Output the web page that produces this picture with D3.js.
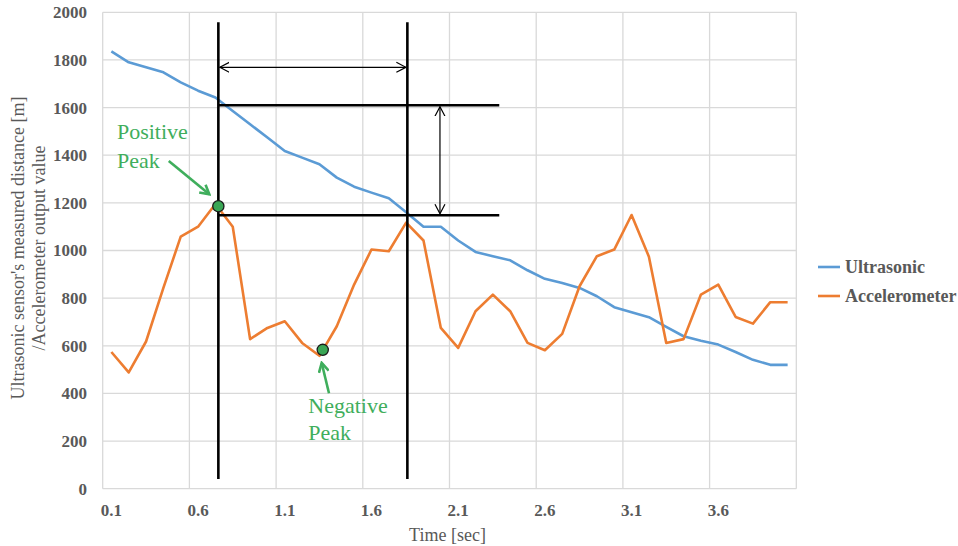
<!DOCTYPE html>
<html>
<head>
<meta charset="utf-8">
<script src="https://cdn.jsdelivr.net/npm/d3@7/dist/d3.min.js"></script>
<style>
	body { margin: 0; background: #fff; }
	text { font-family: "Liberation Serif", "Times New Roman", serif; }
</style>
</head>
<body>
<svg id="chart" width="958" height="546"></svg>
<script>
// time axis categories (sec)
const times = [
	0.1, 0.2, 0.3, 0.4, 0.5, 0.6, 0.7, 0.8, 0.9, 1.0,
	1.1, 1.2, 1.3, 1.4, 1.5, 1.6, 1.7, 1.8, 1.9, 2.0,
	2.1, 2.2, 2.3, 2.4, 2.5, 2.6, 2.7, 2.8, 2.9, 3.0,
	3.1, 3.2, 3.3, 3.4, 3.5, 3.6, 3.7, 3.8, 3.9, 4.0
];
const xTickLabels = ['0.1', '0.6', '1.1', '1.6', '2.1', '2.6', '3.1', '3.6'];
const yTicks = [0, 200, 400, 600, 800, 1000, 1200, 1400, 1600, 1800, 2000];

const ultrasonic = [
	1836, 1790, 1769, 1748, 1706, 1671, 1642, 1586, 1530, 1474,
	1418, 1390, 1362, 1306, 1268, 1243, 1219, 1161, 1100, 1100,
	1042, 994, 976, 959, 917, 881, 864, 843, 808, 762,
	741, 720, 679, 640, 621, 605, 574, 541, 520, 520
];
const accelerometer = [
	574, 488, 618, 843, 1058, 1100, 1195, 1100, 628, 675,
	703, 612, 558, 682, 857, 1004, 997, 1117, 1042, 675,
	591, 745, 815, 745, 612, 581, 650, 850, 976, 1004,
	1149, 974, 612, 628, 815, 857, 721, 693, 783, 783
];

const seriesNames = ['Ultrasonic', 'Accelerometer'];
const seriesColors = ['#5b9bd5', '#ed7d31'];

// annotations, in data units (time sec, value)
const markerLines = [0.717, 1.807];          // thick vertical lines
const markerLineRange = [41, 1958];
const levelLines = [1610, 1148];             // thick horizontal lines
const levelLineRange = [0.717, 2.337];
const timeArrow = {t1: 0.717, t2: 1.807, v: 1769};
const levelArrow = {t: 1.995, v1: 1610, v2: 1148};
const peaks = [
	{name: 'positive', t: 0.717, v: 1186, lines: ['Positive', 'Peak'], textT: 0.132, textV: [1470, 1348], arrow: [[0.431, 1376], [0.665, 1236]]},
	{name: 'negative', t: 1.319, v: 583, lines: ['Negative', 'Peak'], textT: 1.236, textV: [318, 205], arrow: [[1.355, 401], [1.313, 528]]}
];

const margin = {left: 102.7, right: 796.3, top: 12.3, bottom: 488.7};
const svg = d3.select('#chart');
const serif = '"Liberation Serif", "Times New Roman", serif';
const grey = '#595959';
const green = '#3fae5c';

const x = d3.scaleBand().domain(times).range([margin.left, margin.right]).padding(0);
const xt = d3.scaleLinear().domain([0.05, 4.05]).range([margin.left, margin.right]);
const y = d3.scaleLinear().domain([0, 2000]).range([margin.bottom, margin.top]);
const cx = t => x(t) + x.bandwidth() / 2;

// grid
svg.append('g').selectAll('line').data(yTicks).join('line')
	.attr('x1', margin.left).attr('x2', margin.right)
	.attr('y1', d => y(d)).attr('y2', d => y(d))
	.attr('stroke', '#d9d9d9').attr('stroke-width', 1.3);

const vGrid = d3.range(0, times.length + 1, 5).map(i => 0.05 + i * 0.1);
svg.append('g').selectAll('line').data(vGrid).join('line')
	.attr('x1', d => xt(d)).attr('x2', d => xt(d))
	.attr('y1', margin.top).attr('y2', margin.bottom)
	.attr('stroke', '#d9d9d9').attr('stroke-width', 1.3);

// tick labels
svg.append('g').selectAll('text').data(yTicks).join('text')
	.attr('x', 87).attr('y', d => y(d)).attr('dy', '0.35em')
	.attr('text-anchor', 'end').attr('font-weight', 'bold').attr('font-size', 17)
	.attr('font-family', serif).attr('fill', grey).text(d => d);

svg.append('g').selectAll('text').data(xTickLabels).join('text')
	.attr('x', d => cx(+d)).attr('y', 516)
	.attr('text-anchor', 'middle').attr('font-weight', 'bold').attr('font-size', 17)
	.attr('font-family', serif).attr('fill', grey).text(d => d);

// axis titles
svg.append('text')
	.attr('x', (margin.left + margin.right) / 2 - 2).attr('y', 541)
	.attr('text-anchor', 'middle').attr('font-size', 18).attr('font-family', serif)
	.attr('fill', grey).text('Time [sec]');

const yTitle = svg.append('text')
	.attr('transform', 'translate(24,248) rotate(-90)')
	.attr('text-anchor', 'middle').attr('font-size', 18).attr('font-family', serif)
	.attr('fill', grey);
yTitle.append('tspan').attr('x', 0).attr('dy', 0).text("Ultrasonic sensor's measured distance [m]");
yTitle.append('tspan').attr('x', 0).attr('dy', 21).text('/Accelerometer output value');

// series
const line = d3.line().x((d, i) => cx(times[i])).y(d => y(d));
[ultrasonic, accelerometer].forEach((values, i) => {
	svg.append('path').datum(values)
		.attr('fill', 'none').attr('stroke', seriesColors[i])
		.attr('stroke-width', 2.6).attr('stroke-linejoin', 'round')
		.attr('d', line);
});

// legend
const legend = svg.append('g').selectAll('g').data(seriesNames).join('g')
	.attr('transform', (d, i) => `translate(818,${267 + i * 29})`);
legend.append('line').attr('x1', 0).attr('x2', 22)
	.attr('stroke', (d, i) => seriesColors[i]).attr('stroke-width', 2.6);
legend.append('text').attr('x', 27).attr('dy', '0.35em')
	.attr('font-weight', 'bold').attr('font-size', 18).attr('font-family', serif)
	.attr('fill', grey).text(d => d);

// arrow markers
const defs = svg.append('defs');
defs.append('marker').attr('id', 'open-arrow')
	.attr('viewBox', '0 0 10 12').attr('refX', 9.5).attr('refY', 6)
	.attr('markerWidth', 10).attr('markerHeight', 12).attr('markerUnits', 'userSpaceOnUse')
	.attr('orient', 'auto-start-reverse')
	.append('path').attr('d', 'M0,1 L9.5,6 L0,11').attr('fill', 'none')
	.attr('stroke', '#000').attr('stroke-width', 1.2);
defs.append('marker').attr('id', 'green-arrow')
	.attr('viewBox', '0 0 12 12').attr('refX', 10).attr('refY', 6)
	.attr('markerWidth', 12).attr('markerHeight', 12).attr('markerUnits', 'userSpaceOnUse')
	.attr('orient', 'auto')
	.append('path').attr('d', 'M1,1 L10,6 L1,11').attr('fill', 'none')
	.attr('stroke', green).attr('stroke-width', 2.6);

// annotation lines
svg.append('g').selectAll('line').data(markerLines).join('line')
	.attr('x1', d => xt(d)).attr('x2', d => xt(d))
	.attr('y1', y(markerLineRange[0])).attr('y2', y(markerLineRange[1]))
	.attr('stroke', '#000').attr('stroke-width', 2.6);

svg.append('g').selectAll('line').data(levelLines).join('line')
	.attr('x1', xt(levelLineRange[0])).attr('x2', xt(levelLineRange[1]))
	.attr('y1', d => y(d)).attr('y2', d => y(d))
	.attr('stroke', '#000').attr('stroke-width', 2.6);

svg.append('line')
	.attr('x1', xt(timeArrow.t1) + 1.5).attr('x2', xt(timeArrow.t2) - 1.5)
	.attr('y1', y(timeArrow.v)).attr('y2', y(timeArrow.v))
	.attr('stroke', '#000').attr('stroke-width', 1.2)
	.attr('marker-start', 'url(#open-arrow)').attr('marker-end', 'url(#open-arrow)');

svg.append('line')
	.attr('x1', xt(levelArrow.t)).attr('x2', xt(levelArrow.t))
	.attr('y1', y(levelArrow.v1) + 1.5).attr('y2', y(levelArrow.v2) - 1.5)
	.attr('stroke', '#000').attr('stroke-width', 1.2)
	.attr('marker-start', 'url(#open-arrow)').attr('marker-end', 'url(#open-arrow)');

// peaks
const peak = svg.append('g').selectAll('g').data(peaks).join('g');
peak.append('line')
	.attr('x1', d => xt(d.arrow[0][0])).attr('y1', d => y(d.arrow[0][1]))
	.attr('x2', d => xt(d.arrow[1][0])).attr('y2', d => y(d.arrow[1][1]))
	.attr('stroke', green).attr('stroke-width', 2.6)
	.attr('marker-end', 'url(#green-arrow)');
peak.append('circle')
	.attr('cx', d => xt(d.t)).attr('cy', d => y(d.v)).attr('r', 5.6)
	.attr('fill', '#3aa655').attr('stroke', '#1a1a1a').attr('stroke-width', 1.3);
peak.each(function (d) {
	d3.select(this).selectAll('text').data(d.lines).join('text')
		.attr('x', xt(d.textT)).attr('y', (l, i) => y(d.textV[i]))
		.attr('font-size', 22).attr('font-family', serif)
		.attr('fill', green).text(l => l);
});
</script>
</body>
</html>
